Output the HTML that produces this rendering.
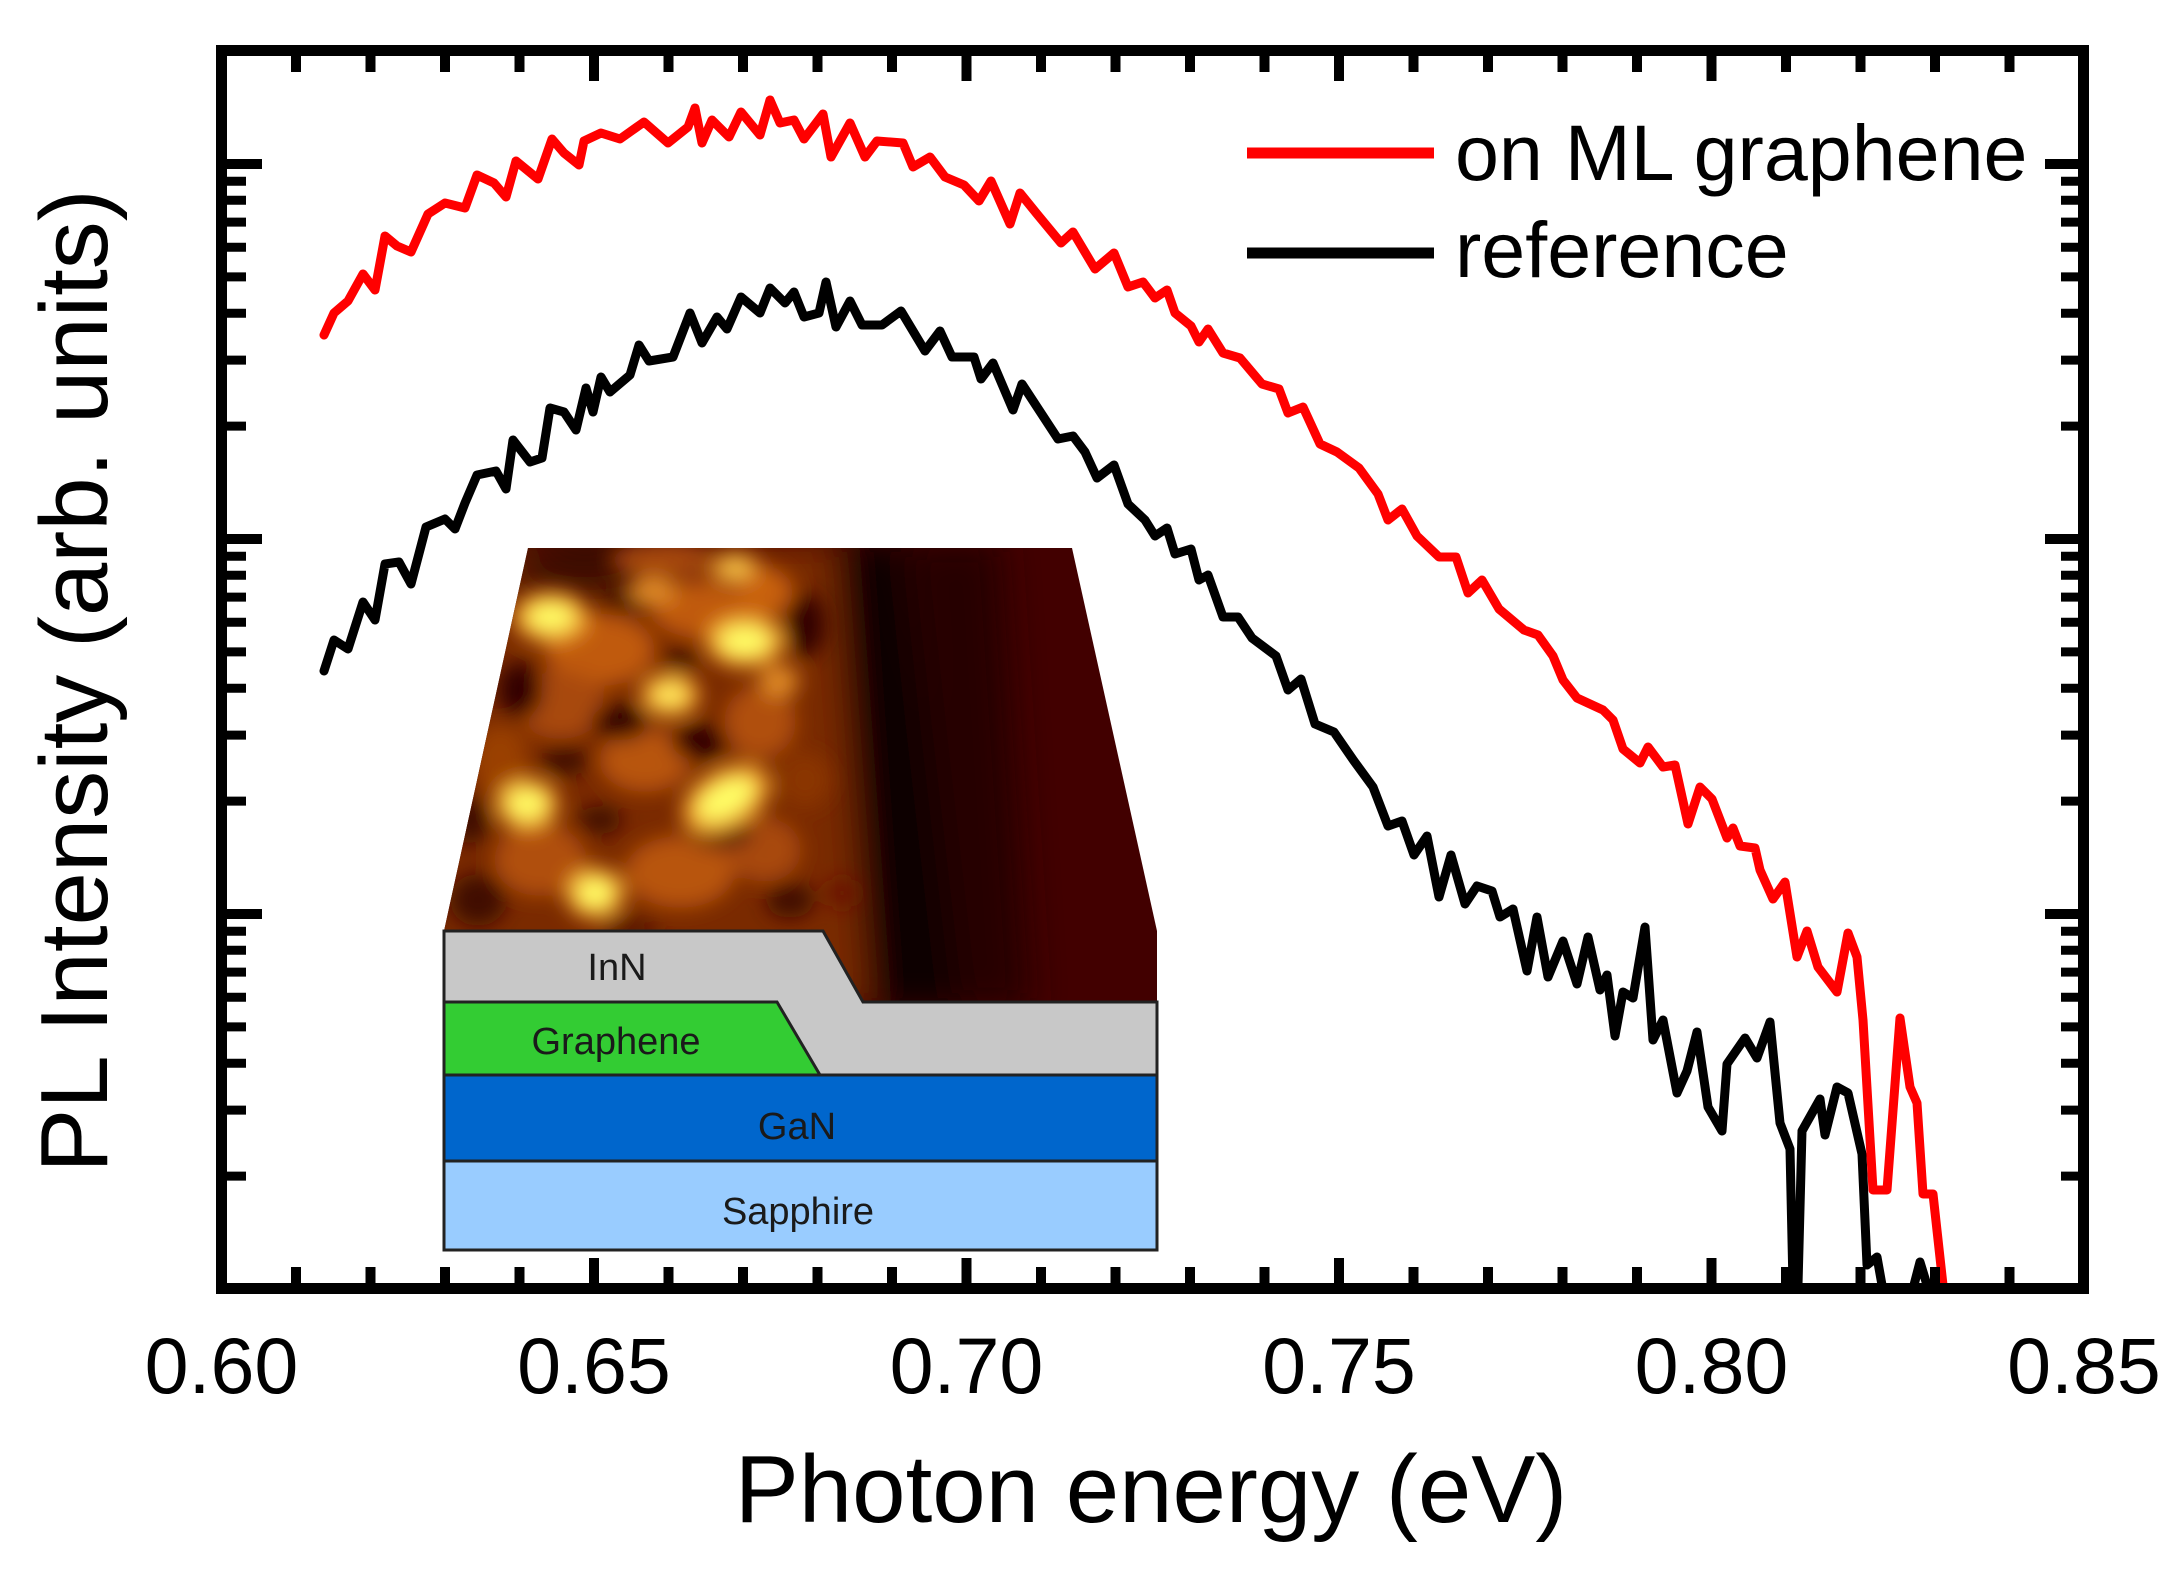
<!DOCTYPE html>
<html>
<head>
<meta charset="utf-8">
<style>
  html, body { margin:0; padding:0; background:#ffffff; }
  svg { display:block; }
  text { font-family: "Liberation Sans", Arial, sans-serif; }
</style>
</head>
<body>
<svg width="2181" height="1581" viewBox="0 0 2181 1581" xmlns="http://www.w3.org/2000/svg">
  <rect x="0" y="0" width="2181" height="1581" fill="#ffffff"/>
  <defs>
    <clipPath id="afmclip">
      <polygon points="528,548 1072,548 1157,931 1157,1002 444,1002 444,931"/>
    </clipPath>
    <filter id="blur" filterUnits="userSpaceOnUse" x="380" y="480" width="860" height="600">
      <feGaussianBlur stdDeviation="10"/>
    </filter>
    <filter id="blur2" filterUnits="userSpaceOnUse" x="380" y="480" width="860" height="600">
      <feGaussianBlur stdDeviation="18"/>
    </filter>
  </defs>

  <!-- AFM image inset -->
  <g clip-path="url(#afmclip)">
    <rect x="430" y="540" width="740" height="470" fill="#420000"/>
    <g filter="url(#blur2)">
      <polygon points="420,540 840,540 872,1010 420,1010" fill="#7a2c04"/>
      <polygon points="835,540 900,540 965,1010 868,1010" fill="#080000"/>
      <polygon points="905,540 1000,540 1030,1010 958,1010" fill="#260000"/>
      <ellipse cx="585" cy="570" rx="80" ry="30" fill="#3a0a00"/>
    </g>
    <g filter="url(#blur)">
      <!-- mid-tone orange mottling -->
      <ellipse cx="600" cy="650" rx="55" ry="36" fill="#c05a0c"/>
      <ellipse cx="700" cy="610" rx="48" ry="28" fill="#c05a0c"/>
      <ellipse cx="765" cy="592" rx="28" ry="24" fill="#c86010"/>
      <ellipse cx="560" cy="705" rx="45" ry="34" fill="#a84a08"/>
      <ellipse cx="645" cy="760" rx="46" ry="32" fill="#b85408"/>
      <ellipse cx="760" cy="722" rx="36" ry="36" fill="#b05008"/>
      <ellipse cx="540" cy="860" rx="46" ry="36" fill="#b05008"/>
      <ellipse cx="680" cy="872" rx="55" ry="36" fill="#b85408"/>
      <ellipse cx="765" cy="850" rx="36" ry="32" fill="#a84a08"/>
      <ellipse cx="500" cy="760" rx="28" ry="36" fill="#9a4006"/>
      <ellipse cx="660" cy="560" rx="50" ry="16" fill="#a84a08"/>
      <ellipse cx="805" cy="780" rx="26" ry="28" fill="#8a3406"/>
      <ellipse cx="842" cy="893" rx="16" ry="14" fill="#6a1800"/>
      <!-- dark spots / network -->
      <ellipse cx="520" cy="690" rx="22" ry="28" fill="#300600"/>
      <ellipse cx="620" cy="722" rx="28" ry="18" fill="#300600"/>
      <ellipse cx="700" cy="742" rx="28" ry="18" fill="#300600"/>
      <ellipse cx="565" cy="760" rx="24" ry="15" fill="#400a00"/>
      <ellipse cx="720" cy="832" rx="32" ry="15" fill="#300600"/>
      <ellipse cx="478" cy="900" rx="28" ry="26" fill="#400a00"/>
      <ellipse cx="805" cy="625" rx="20" ry="32" fill="#300600"/>
      <ellipse cx="630" cy="600" rx="24" ry="13" fill="#400a00"/>
      <ellipse cx="630" cy="930" rx="30" ry="14" fill="#5a1200"/>
      <ellipse cx="600" cy="820" rx="22" ry="14" fill="#400a00"/>
      <ellipse cx="680" cy="660" rx="18" ry="12" fill="#400a00"/>
      <ellipse cx="470" cy="820" rx="20" ry="24" fill="#400a00"/>
      <ellipse cx="790" cy="900" rx="24" ry="18" fill="#400a00"/>
      <!-- bright halos -->
      <ellipse cx="551" cy="617" rx="38" ry="26" fill="#f09a28"/>
      <ellipse cx="745" cy="641" rx="40" ry="27" fill="#f09a28"/>
      <ellipse cx="670" cy="695" rx="30" ry="22" fill="#f09a28"/>
      <ellipse cx="527" cy="804" rx="32" ry="26" fill="#f09a28"/>
      <ellipse cx="726" cy="799" rx="48" ry="30" fill="#f09a28" transform="rotate(-30 726 799)"/>
      <ellipse cx="595" cy="893" rx="30" ry="26" fill="#f09a28"/>
      <ellipse cx="735" cy="568" rx="26" ry="15" fill="#e08a28"/>
      <ellipse cx="653" cy="591" rx="24" ry="14" fill="#e08a28"/>
      <ellipse cx="779" cy="681" rx="20" ry="16" fill="#e08a28"/>
      <!-- bright yellow cores -->
      <ellipse cx="551" cy="617" rx="24" ry="14" fill="#ffff66"/>
      <ellipse cx="745" cy="641" rx="26" ry="15" fill="#ffff66"/>
      <ellipse cx="670" cy="695" rx="17" ry="11" fill="#fff060"/>
      <ellipse cx="527" cy="804" rx="20" ry="15" fill="#ffff66"/>
      <ellipse cx="726" cy="799" rx="32" ry="17" fill="#ffff66" transform="rotate(-30 726 799)"/>
      <ellipse cx="595" cy="893" rx="18" ry="15" fill="#ffff66"/>
      <ellipse cx="735" cy="568" rx="14" ry="8" fill="#f8d050"/>
    </g>
  </g>

  <!-- layer schematic -->
  <g stroke="#222222" stroke-width="3" stroke-linejoin="miter">
    <polygon points="444,931 823,931 863,1002 1157,1002 1157,1075 444,1075" fill="#c8c8c8"/>
    <polygon points="444,1002 777,1002 820,1075 444,1075" fill="#33cc33"/>
    <rect x="444" y="1075" width="713" height="86" fill="#0066cc"/>
    <rect x="444" y="1161" width="713" height="89" fill="#99ccff"/>
  </g>
  <g font-size="38" fill="#1a1a1a" text-anchor="middle">
    <text x="617" y="980">InN</text>
    <text x="616" y="1054">Graphene</text>
    <text x="797" y="1139">GaN</text>
    <text x="798" y="1224">Sapphire</text>
  </g>

  <!-- data curves -->
  <g fill="none" stroke-linejoin="round" stroke-linecap="round">
    <polyline stroke="#000000" stroke-width="9" points="324,671 334,640 348,649 363,602 375,620 385,564 399,562 411,584 426,527 445,519 455,529 465,503 477,475 496,471 506,489 513,440 530,462 542,458 550,408 564,412 576,430 586,388 593,412 601,377 610,392 630,375 639,345 649,361 673,357 690,313 702,343 717,317 727,329 741,297 760,313 770,288 785,303 794,292 804,317 819,313 826,282 836,327 850,301 862,325 882,325 901,311 925,351 940,331 952,357 974,357 981,379 993,363 1013,410 1022,384 1039,410 1058,439 1073,436 1085,452 1097,478 1114,465 1128,504 1145,520 1155,536 1167,528 1175,554 1191,549 1199,580 1208,575 1223,617 1238,617 1252,638 1276,656 1288,690 1301,679 1315,724 1334,732 1354,761 1373,787 1388,826 1402,821 1414,855 1427,836 1439,897 1451,855 1465,904 1477,886 1492,891 1500,917 1513,909 1527,971 1537,917 1548,977 1563,941 1577,984 1588,937 1600,990 1607,975 1615,1036 1623,992 1633,998 1645,927 1653,1040 1663,1020 1677,1093 1687,1071 1697,1032 1708,1107 1722,1131 1727,1064 1745,1038 1757,1058 1770,1022 1780,1123 1790,1149 1793,1285 1798,1285 1802,1131 1820,1099 1825,1135 1837,1087 1848,1093 1862,1154 1867,1265 1877,1257 1882,1285"/>
    <polyline stroke="#000000" stroke-width="9" points="1914,1285 1920,1262 1927,1285"/>
    <polyline stroke="#ff0000" stroke-width="9" points="324,335 334,313 348,301 363,274 375,290 385,236 397,246 411,252 428,214 445,203 465,208 477,175 494,183 506,197 516,161 538,179 552,139 564,153 579,165 584,141 601,133 620,139 644,122 668,143 688,127 695,108 702,143 712,120 729,137 741,112 760,135 770,100 780,123 794,120 804,139 823,114 831,157 850,123 865,157 877,141 903,143 913,167 930,157 945,177 964,185 979,201 991,181 1010,224 1020,193 1037,214 1061,243 1073,232 1095,269 1114,253 1128,287 1143,282 1155,298 1167,290 1175,313 1191,326 1199,342 1208,329 1223,353 1240,358 1262,384 1279,389 1288,413 1303,407 1320,444 1337,452 1359,468 1378,494 1388,520 1402,509 1417,536 1439,557 1456,557 1468,593 1482,580 1499,609 1524,630 1538,635 1553,656 1563,680 1577,698 1603,710 1613,720 1623,749 1640,763 1648,747 1663,767 1675,765 1688,824 1700,787 1712,799 1727,838 1733,828 1740,846 1755,848 1760,870 1773,899 1785,882 1797,957 1807,931 1818,967 1837,992 1848,933 1857,957 1863,1020 1873,1190 1887,1190 1900,1018 1910,1087 1917,1103 1923,1194 1933,1194 1943,1285"/>
  </g>

  <!-- frame -->
  <rect x="221.5" y="50.5" width="1862" height="1238" fill="none" stroke="#000" stroke-width="11"/>

  <!-- x ticks (bottom & top) -->
  <path stroke="#000" stroke-width="10" fill="none" d="
    M296 1283V1267 M370.5 1283V1267 M445 1283V1267 M519.5 1283V1267 M594 1283V1258
    M668.5 1283V1267 M743 1283V1267 M817.5 1283V1267 M892 1283V1267 M966.5 1283V1258
    M1041 1283V1267 M1115.5 1283V1267 M1190 1283V1267 M1264.5 1283V1267 M1339 1283V1258
    M1413.5 1283V1267 M1488 1283V1267 M1562.5 1283V1267 M1637 1283V1267 M1711.5 1283V1258
    M1786 1283V1267 M1860.5 1283V1267 M1935 1283V1267 M2009.5 1283V1267
    M296 56V72 M370.5 56V72 M445 56V72 M519.5 56V72 M594 56V81
    M668.5 56V72 M743 56V72 M817.5 56V72 M892 56V72 M966.5 56V81
    M1041 56V72 M1115.5 56V72 M1190 56V72 M1264.5 56V72 M1339 56V81
    M1413.5 56V72 M1488 56V72 M1562.5 56V72 M1637 56V72 M1711.5 56V81
    M1786 56V72 M1860.5 56V72 M1935 56V72 M2009.5 56V72"/>

  <!-- y ticks major -->
  <path stroke="#000" stroke-width="10" fill="none" d="
    M227 164H262 M227 539H262 M227 914H262
    M2078 164H2045 M2078 539H2045 M2078 914H2045"/>
  <!-- y ticks minor -->
  <path stroke="#000" stroke-width="9" fill="none" d="
    M227 181.2H246 M227 200.3H246 M227 222.1H246 M227 247.2H246 M227 276.9H246 M227 313.2H246 M227 360.1H246 M227 426.1H246
    M227 556.2H246 M227 575.3H246 M227 597.1H246 M227 622.2H246 M227 651.9H246 M227 688.2H246 M227 735.1H246 M227 801.1H246
    M227 931.2H246 M227 950.3H246 M227 972.1H246 M227 997.2H246 M227 1026.9H246 M227 1063.2H246 M227 1110.1H246 M227 1176.1H246
    M2078 181.2H2061 M2078 200.3H2061 M2078 222.1H2061 M2078 247.2H2061 M2078 276.9H2061 M2078 313.2H2061 M2078 360.1H2061 M2078 426.1H2061
    M2078 556.2H2061 M2078 575.3H2061 M2078 597.1H2061 M2078 622.2H2061 M2078 651.9H2061 M2078 688.2H2061 M2078 735.1H2061 M2078 801.1H2061
    M2078 931.2H2061 M2078 950.3H2061 M2078 972.1H2061 M2078 997.2H2061 M2078 1026.9H2061 M2078 1063.2H2061 M2078 1110.1H2061 M2078 1176.1H2061"/>

  <!-- x tick labels -->
  <g font-size="79" fill="#000" text-anchor="middle">
    <text x="221.5" y="1393">0.60</text>
    <text x="594" y="1393">0.65</text>
    <text x="966.5" y="1393">0.70</text>
    <text x="1339" y="1393">0.75</text>
    <text x="1711.5" y="1393">0.80</text>
    <text x="2084" y="1393">0.85</text>
  </g>

  <!-- axis titles -->
  <text x="1151" y="1522" font-size="96" fill="#000" text-anchor="middle">Photon energy (eV)</text>
  <text transform="translate(107,681) rotate(-90)" x="0" y="0" font-size="96" fill="#000" text-anchor="middle">PL Intensity (arb. units)</text>

  <!-- legend -->
  <line x1="1247" y1="153" x2="1434" y2="153" stroke="#ff0000" stroke-width="11"/>
  <line x1="1247" y1="253" x2="1434" y2="253" stroke="#000000" stroke-width="11"/>
  <g font-size="79" fill="#000">
    <text x="1455" y="180">on ML graphene</text>
    <text x="1455" y="277">reference</text>
  </g>
</svg>
</body>
</html>
